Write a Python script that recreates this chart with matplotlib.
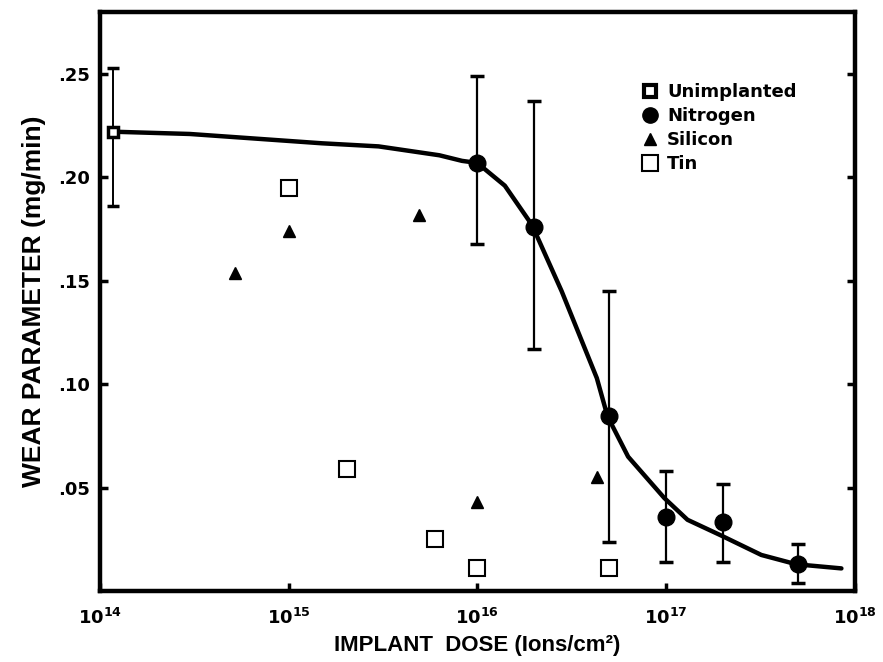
import matplotlib
matplotlib.use("Agg")
from matplotlib import pyplot as plt
from matplotlib.lines import Line2D

plt.rcParams['font.family'] = ['DejaVu Sans']
plt.rcParams['font.weight'] = 'bold'
plt.rcParams['mathtext.fontset'] = 'dejavusans'

# data
unimpl_dose = [1.17e14]
unimpl_wear = [0.222]
unimpl_hi = [0.253]
unimpl_lo = [0.186]

nitrogen_dose = [1e16, 2e16, 5e16, 1e17, 2e17, 5e17]
nitrogen_wear = [0.207, 0.176, 0.0845, 0.036, 0.0335, 0.013]
nitrogen_hi = [0.249, 0.237, 0.145, 0.058, 0.052, 0.023]
nitrogen_lo = [0.168, 0.117, 0.024, 0.014, 0.014, 0.004]

silicon_dose = [5.2e14, 1e15, 4.9e15, 1e16, 4.3e16]
silicon_wear = [0.154, 0.174, 0.182, 0.043, 0.055]

tin_dose = [1e15, 2.05e15, 6e15, 1e16, 5e16]
tin_wear = [0.195, 0.059, 0.025, 0.011, 0.011]

# hand-drawn trend curve
curve_dose = [1.28e14, 3.0e14, 1.5e15, 3.0e15, 6.3e15, 8.3e15, 1e16, 1.4e16, 1.95e16,
              2.8e16, 4.3e16, 4.9e16, 6.3e16, 9.8e16, 1.3e17, 1.95e17, 3.2e17, 4.9e17, 8.5e17]
curve_wear = [0.222, 0.221, 0.2165, 0.215, 0.2107, 0.208, 0.207, 0.196, 0.177,
              0.145, 0.103, 0.0845, 0.065, 0.045, 0.0345, 0.027, 0.0175, 0.013, 0.011]

dose_ticks = [1e14, 1e15, 1e16, 1e17, 1e18]
dose_labels = [r'$\mathbf{10^{14}}$', r'$\mathbf{10^{15}}$', r'$\mathbf{10^{16}}$',
               r'$\mathbf{10^{17}}$', r'$\mathbf{10^{18}}$']
wear_ticks = [0.05, 0.10, 0.15, 0.20, 0.25]
wear_labels = ['.05', '.10', '.15', '.20', '.25']


def err(vals, hi, lo):
    return [[v - l for v, l in zip(vals, lo)], [h - v for v, h in zip(vals, hi)]]


fig = plt.figure(figsize=(8.83, 6.62), dpi=100)
ax = fig.add_axes([0.113, 0.107, 0.855, 0.875])

ax.plot(curve_dose, curve_wear, color='black', linewidth=3.2, solid_capstyle='round', zorder=3)

ax.errorbar(unimpl_dose, unimpl_wear, yerr=err(unimpl_wear, unimpl_hi, unimpl_lo), fmt='s',
            color='black', mfc='white', mec='black', mew=2.5, ms=7, elinewidth=1.4,
            capsize=4, capthick=2, zorder=4)
ax.errorbar(nitrogen_dose, nitrogen_wear, yerr=err(nitrogen_wear, nitrogen_hi, nitrogen_lo), fmt='o',
            color='black', ms=12, elinewidth=1.6, capsize=5, capthick=2.5, zorder=4)
ax.plot(silicon_dose, silicon_wear, '^', color='black', ms=9, linestyle='none', zorder=4)
ax.plot(tin_dose, tin_wear, 's', mfc='white', mec='black', mew=1.5, ms=11, linestyle='none', zorder=4)

ax.set_xscale('log')
ax.set_xlim(1e14, 1e18)
ax.set_ylim(0, 0.28)
ax.set_xticks(dose_ticks, dose_labels)
ax.set_yticks(wear_ticks, wear_labels)
ax.minorticks_off()
ax.tick_params(direction='in', length=6, width=2.5, labelsize=13, pad=7,
               right=True, top=False)
ax.tick_params(axis='x', pad=12)
for sp in ax.spines.values():
    sp.set_linewidth(3.2)

ax.set_xlabel('IMPLANT  DOSE (Ions/cm²)', fontsize=16, fontweight='bold',
              family='Liberation Sans', labelpad=5)
ax.set_ylabel('WEAR PARAMETER (mg/min)', fontsize=19, fontweight='bold',
              family='Liberation Sans', labelpad=9)

handles = [
    Line2D([], [], marker='s', linestyle='none', mfc='white', mec='black', mew=3, ms=9),
    Line2D([], [], marker='o', linestyle='none', color='black', ms=11),
    Line2D([], [], marker='^', linestyle='none', color='black', ms=9),
    Line2D([], [], marker='s', linestyle='none', mfc='white', mec='black', mew=1.5, ms=11),
]
ax.legend(handles, ['Unimplanted', 'Nitrogen', 'Silicon', 'Tin'], loc='upper left',
          bbox_to_anchor=(0.695, 0.905), frameon=False, handlelength=1.0, handletextpad=0.45,
          labelspacing=0.33, prop={'size': 13, 'weight': 'bold'})

fig.savefig('out.png', dpi=100)
plt.close()
